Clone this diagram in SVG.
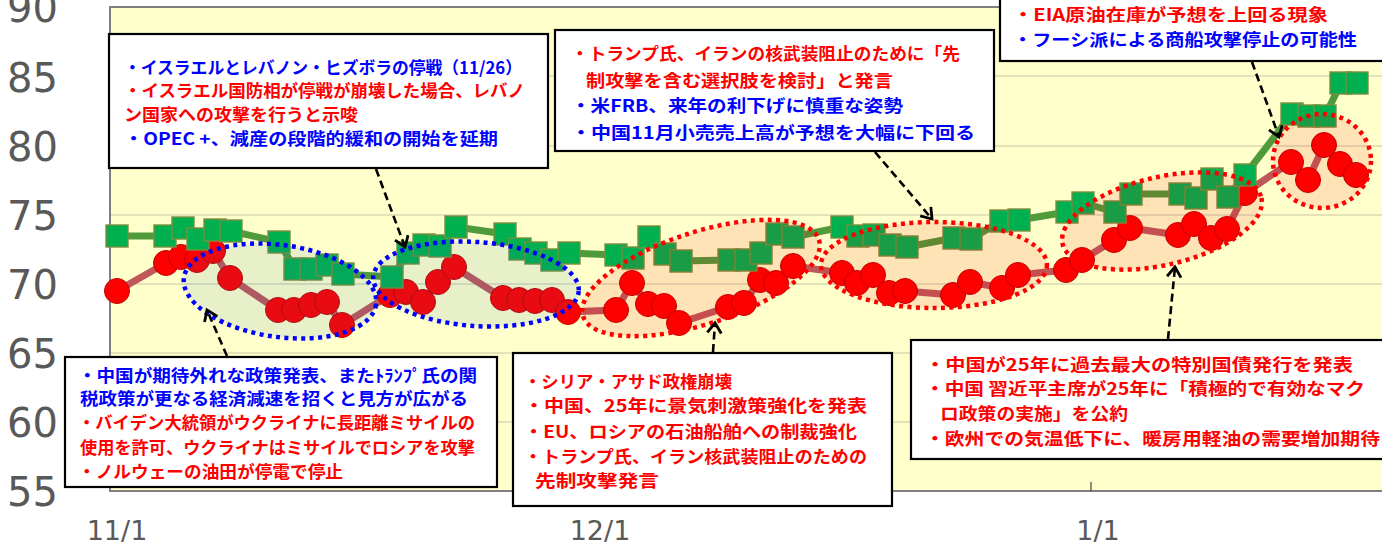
<svg xmlns="http://www.w3.org/2000/svg" width="1382" height="544" viewBox="0 0 1382 544">
<style>
.ax{font-family:'DejaVu Sans','Liberation Sans',sans-serif;fill:#595959}
.jp{font-family:'Noto Sans CJK JP',sans-serif;font-weight:bold;font-size:17px}
.r{fill:#ff0000}
.b{fill:#0000ff}
.box{fill:#ffffff;stroke:#000000;stroke-width:2.2}
.grid{stroke:#c8c8a8;stroke-width:1.2}
.sq{fill:#00b050;stroke:#7a8f3c;stroke-width:1.4}
.ci{fill:#ff0000;stroke:#c00000;stroke-width:1}
.eb{fill:#1f6fb0;fill-opacity:0.1;stroke:#0000ff;stroke-width:4.5;stroke-dasharray:4 4.4}
.er{fill:#ec0000;fill-opacity:0.11;stroke:#ff0000;stroke-width:4.5;stroke-dasharray:4 4.4}
.arr{fill:none;stroke:#000000;stroke-width:2.6;stroke-dasharray:8 4.5;marker-end:url(#ah)}
</style>
<defs>
<marker id="ah" markerUnits="userSpaceOnUse" markerWidth="20" markerHeight="20" refX="12" refY="8" orient="auto">
<path d="M2,1 L12,8 L2,15" fill="none" stroke="#000000" stroke-width="2.8"/>
</marker>
</defs>
<rect x="0" y="0" width="1382" height="544" fill="#ffffff"/>
<g id="plot">
<rect x="110" y="7" width="1285" height="484" fill="#ffffcc" stroke="#7f7f7f" stroke-width="2"/>
<line class="grid" x1="111" y1="76" x2="1382" y2="76"/>
<line class="grid" x1="111" y1="146" x2="1382" y2="146"/>
<line class="grid" x1="111" y1="215" x2="1382" y2="215"/>
<line class="grid" x1="111" y1="284" x2="1382" y2="284"/>
<line class="grid" x1="111" y1="353" x2="1382" y2="353"/>
<line class="grid" x1="111" y1="422" x2="1382" y2="422"/>
<line x1="1091" y1="482" x2="1091" y2="491" stroke="#404040" stroke-width="1.2"/>
</g>
<g id="axes">
<text class="ax" x="58" y="22" font-size="40" text-anchor="end">90</text>
<text class="ax" x="58" y="92" font-size="40" text-anchor="end">85</text>
<text class="ax" x="58" y="161" font-size="40" text-anchor="end">80</text>
<text class="ax" x="58" y="230" font-size="40" text-anchor="end">75</text>
<text class="ax" x="58" y="299" font-size="40" text-anchor="end">70</text>
<text class="ax" x="58" y="368" font-size="40" text-anchor="end">65</text>
<text class="ax" x="58" y="437" font-size="40" text-anchor="end">60</text>
<text class="ax" x="58" y="506" font-size="40" text-anchor="end">55</text>
<text class="ax" x="117" y="540" font-size="27" text-anchor="middle">11/1</text>
<text class="ax" x="600" y="540" font-size="27" text-anchor="middle">12/1</text>
<text class="ax" x="1098" y="540" font-size="27" text-anchor="middle">1/1</text>
</g>
<g id="series-red">
<polyline fill="none" stroke="#c0585a" stroke-width="7" stroke-linejoin="round" points="117,291 166,263 181,257 197,260 213,251 230,278 278,310 294,310 311,305 327,302 342,325 390,295 406,292 423,302 438,282 454,267 503,298 519,300 535,301 552,300 568,312 616,310 632,283 648,304 664,306 679,323 728,307 744,303 760,280 776,283 793,266 842,273 857,283 873,275 889,293 905,291 953,295 970,282 1002,288 1018,275 1066,270 1082,260 1114,240 1130,228 1178,235 1194,224 1211,238 1227,229 1245,193 1291,162 1308,180 1324,145 1340,164 1356,175"/>
<g class="ci">
<circle cx="117" cy="291" r="12.5"/><circle cx="166" cy="263" r="12.5"/><circle cx="181" cy="257" r="12.5"/><circle cx="197" cy="260" r="12.5"/><circle cx="213" cy="251" r="12.5"/><circle cx="230" cy="278" r="12.5"/><circle cx="278" cy="310" r="12.5"/><circle cx="294" cy="310" r="12.5"/><circle cx="311" cy="305" r="12.5"/><circle cx="327" cy="302" r="12.5"/><circle cx="342" cy="325" r="12.5"/><circle cx="390" cy="295" r="12.5"/><circle cx="406" cy="292" r="12.5"/><circle cx="423" cy="302" r="12.5"/><circle cx="438" cy="282" r="12.5"/><circle cx="454" cy="267" r="12.5"/><circle cx="503" cy="298" r="12.5"/><circle cx="519" cy="300" r="12.5"/><circle cx="535" cy="301" r="12.5"/><circle cx="552" cy="300" r="12.5"/><circle cx="568" cy="312" r="12.5"/><circle cx="616" cy="310" r="12.5"/><circle cx="632" cy="283" r="12.5"/><circle cx="648" cy="304" r="12.5"/><circle cx="664" cy="306" r="12.5"/><circle cx="679" cy="323" r="12.5"/><circle cx="728" cy="307" r="12.5"/><circle cx="744" cy="303" r="12.5"/><circle cx="760" cy="280" r="12.5"/><circle cx="776" cy="283" r="12.5"/><circle cx="793" cy="266" r="12.5"/><circle cx="842" cy="273" r="12.5"/><circle cx="857" cy="283" r="12.5"/><circle cx="873" cy="275" r="12.5"/><circle cx="889" cy="293" r="12.5"/><circle cx="905" cy="291" r="12.5"/><circle cx="953" cy="295" r="12.5"/><circle cx="970" cy="282" r="12.5"/><circle cx="1002" cy="288" r="12.5"/><circle cx="1018" cy="275" r="12.5"/><circle cx="1066" cy="270" r="12.5"/><circle cx="1082" cy="260" r="12.5"/><circle cx="1114" cy="240" r="12.5"/><circle cx="1130" cy="228" r="12.5"/><circle cx="1178" cy="235" r="12.5"/><circle cx="1194" cy="224" r="12.5"/><circle cx="1211" cy="238" r="12.5"/><circle cx="1227" cy="229" r="12.5"/><circle cx="1245" cy="193" r="12.5"/><circle cx="1291" cy="162" r="12.5"/><circle cx="1308" cy="180" r="12.5"/><circle cx="1324" cy="145" r="12.5"/><circle cx="1340" cy="164" r="12.5"/><circle cx="1356" cy="175" r="12.5"/>
</g>
</g>
<g id="series-green">
<polyline fill="none" stroke="#4f9a3a" stroke-width="7" stroke-linejoin="round" points="117,236 165,236 183,228 198,239 215,230 231,231 279,242 295,269 311,269 327,265 343,274 392,277 408,253 424,245 440,246 456,227 505,234 520,249 536,253 552,260 569,253 616,255 633,258 649,237 665,254 681,261 729,260 746,260 761,253 777,234 793,237 842,227 858,236 874,235 890,245 907,247 954,238 971,239 1001,221 1019,220 1067,212 1083,203 1115,212 1131,194 1180,194 1196,198 1212,179 1228,197 1245,175 1292,114 1309,116 1325,116 1341,83 1357,83"/>
<g class="sq">
<rect x="106" y="225" width="22" height="22"/><rect x="154" y="225" width="22" height="22"/><rect x="172" y="217" width="22" height="22"/><rect x="187" y="228" width="22" height="22"/><rect x="204" y="219" width="22" height="22"/><rect x="220" y="220" width="22" height="22"/><rect x="268" y="231" width="22" height="22"/><rect x="284" y="258" width="22" height="22"/><rect x="300" y="258" width="22" height="22"/><rect x="316" y="254" width="22" height="22"/><rect x="332" y="263" width="22" height="22"/><rect x="381" y="266" width="22" height="22"/><rect x="397" y="242" width="22" height="22"/><rect x="413" y="234" width="22" height="22"/><rect x="429" y="235" width="22" height="22"/><rect x="445" y="216" width="22" height="22"/><rect x="494" y="223" width="22" height="22"/><rect x="509" y="238" width="22" height="22"/><rect x="525" y="242" width="22" height="22"/><rect x="541" y="249" width="22" height="22"/><rect x="558" y="242" width="22" height="22"/><rect x="605" y="244" width="22" height="22"/><rect x="622" y="247" width="22" height="22"/><rect x="638" y="226" width="22" height="22"/><rect x="654" y="243" width="22" height="22"/><rect x="670" y="250" width="22" height="22"/><rect x="718" y="249" width="22" height="22"/><rect x="735" y="249" width="22" height="22"/><rect x="750" y="242" width="22" height="22"/><rect x="766" y="223" width="22" height="22"/><rect x="782" y="226" width="22" height="22"/><rect x="831" y="216" width="22" height="22"/><rect x="847" y="225" width="22" height="22"/><rect x="863" y="224" width="22" height="22"/><rect x="879" y="234" width="22" height="22"/><rect x="896" y="236" width="22" height="22"/><rect x="943" y="227" width="22" height="22"/><rect x="960" y="228" width="22" height="22"/><rect x="990" y="210" width="22" height="22"/><rect x="1008" y="209" width="22" height="22"/><rect x="1056" y="201" width="22" height="22"/><rect x="1072" y="192" width="22" height="22"/><rect x="1104" y="201" width="22" height="22"/><rect x="1120" y="183" width="22" height="22"/><rect x="1169" y="183" width="22" height="22"/><rect x="1185" y="187" width="22" height="22"/><rect x="1201" y="168" width="22" height="22"/><rect x="1217" y="186" width="22" height="22"/><rect x="1234" y="164" width="22" height="22"/><rect x="1281" y="103" width="22" height="22"/><rect x="1298" y="105" width="22" height="22"/><rect x="1314" y="105" width="22" height="22"/><rect x="1330" y="72" width="22" height="22"/><rect x="1346" y="72" width="22" height="22"/>
</g>
</g>
<g id="highlights">
<ellipse class="eb" cx="280" cy="291" rx="97" ry="46" transform="rotate(8 280 291)"/>
<ellipse class="eb" cx="476" cy="284" rx="103" ry="42" transform="rotate(4 476 284)"/>
<ellipse class="er" cx="701" cy="278" rx="124" ry="46" transform="rotate(-18 701 278)"/>
<ellipse class="er" cx="934" cy="265" rx="113" ry="43"/>
<ellipse class="er" cx="1162" cy="221" rx="102" ry="44" transform="rotate(-13 1162 221)"/>
<ellipse class="er" cx="1322" cy="161" rx="49" ry="47"/>
</g>
<g id="connectors">
<line class="arr" x1="376" y1="169" x2="405" y2="247"/>
<line class="arr" x1="875" y1="152" x2="932" y2="219"/>
<line class="arr" x1="1252" y1="62" x2="1279" y2="137"/>
<line class="arr" x1="227" y1="356" x2="207" y2="310"/>
<line class="arr" x1="713" y1="352" x2="715" y2="323"/>
<line class="arr" x1="1168" y1="339" x2="1175" y2="267"/>
</g>
<g id="note-ceasefire">
<rect class="box" x="109" y="34" width="439" height="134"/>
<text class="jp b" x="124" y="74" textLength="398" lengthAdjust="spacingAndGlyphs">・イスラエルとレバノン・ヒズボラの停戦（11/26）</text>
<text class="jp r" x="124" y="96.5" textLength="401" lengthAdjust="spacingAndGlyphs">・イスラエル国防相が停戦が崩壊した場合、レバノ</text>
<text class="jp r" x="124" y="120.5" textLength="234" lengthAdjust="spacingAndGlyphs">ン国家への攻撃を行うと示唆</text>
<text class="jp b" x="124" y="144.5" textLength="374" lengthAdjust="spacingAndGlyphs">・OPEC +、減産の段階的緩和の開始を延期</text>
</g>
<g id="note-trump-fed">
<rect class="box" x="555" y="30" width="439" height="121"/>
<text class="jp r" x="571" y="59.5" textLength="389" lengthAdjust="spacingAndGlyphs">・トランプ氏、イランの核武装阻止のために「先</text>
<text class="jp r" x="586" y="86.5" textLength="307" lengthAdjust="spacingAndGlyphs">制攻撃を含む選択肢を検討」と発言</text>
<text class="jp b" x="571" y="111.5" textLength="332" lengthAdjust="spacingAndGlyphs">・米FRB、来年の利下げに慎重な姿勢</text>
<text class="jp b" x="571" y="138.5" textLength="404" lengthAdjust="spacingAndGlyphs">・中国11月小売売上高が予想を大幅に下回る</text>
</g>
<g id="note-eia">
<rect class="box" x="1000" y="-20" width="400" height="81"/>
<text class="jp r" x="1013" y="20.5" textLength="315" lengthAdjust="spacingAndGlyphs">・EIA原油在庫が予想を上回る現象</text>
<text class="jp b" x="1013" y="45.5" textLength="344" lengthAdjust="spacingAndGlyphs">・フーシ派による商船攻撃停止の可能性</text>
</g>
<g id="note-china-ukraine">
<rect class="box" x="65" y="357" width="432" height="130"/>
<text class="jp b" x="78" y="382" textLength="399" lengthAdjust="spacingAndGlyphs">・中国が期待外れな政策発表、またﾄﾗﾝﾌﾟ氏の関</text>
<text class="jp b" x="80" y="405" textLength="388" lengthAdjust="spacingAndGlyphs">税政策が更なる経済減速を招くと見方が広がる</text>
<text class="jp r" x="78" y="429" textLength="397" lengthAdjust="spacingAndGlyphs">・バイデン大統領がウクライナに長距離ミサイルの</text>
<text class="jp r" x="80" y="453.5" textLength="395" lengthAdjust="spacingAndGlyphs">使用を許可、ウクライナはミサイルでロシアを攻撃</text>
<text class="jp r" x="78" y="478" textLength="265" lengthAdjust="spacingAndGlyphs">・ノルウェーの油田が停電で停止</text>
</g>
<g id="note-syria">
<rect class="box" x="513" y="353" width="379" height="153"/>
<text class="jp r" x="524" y="387.5" textLength="208" lengthAdjust="spacingAndGlyphs">・シリア・アサド政権崩壊</text>
<text class="jp r" x="524" y="411.5" textLength="343" lengthAdjust="spacingAndGlyphs">・中国、25年に景気刺激策強化を発表</text>
<text class="jp r" x="524" y="437.5" textLength="333" lengthAdjust="spacingAndGlyphs">・EU、ロシアの石油船舶への制裁強化</text>
<text class="jp r" x="524" y="462.5" textLength="343" lengthAdjust="spacingAndGlyphs">・トランプ氏、イラン核武装阻止のための</text>
<text class="jp r" x="535" y="486.5" textLength="124" lengthAdjust="spacingAndGlyphs">先制攻撃発言</text>
</g>
<g id="note-china-bonds">
<rect class="box" x="911" y="340" width="484" height="119"/>
<text class="jp r" x="925" y="370.5" textLength="428" lengthAdjust="spacingAndGlyphs">・中国が25年に過去最大の特別国債発行を発表</text>
<text class="jp r" x="925" y="394.5" textLength="440" lengthAdjust="spacingAndGlyphs">・中国 習近平主席が25年に「積極的で有効なマク</text>
<text class="jp r" x="940" y="419.5" textLength="188" lengthAdjust="spacingAndGlyphs">ロ政策の実施」を公約</text>
<text class="jp r" x="925" y="444.5" textLength="455" lengthAdjust="spacingAndGlyphs">・欧州での気温低下に、暖房用軽油の需要増加期待</text>
</g>
</svg>
